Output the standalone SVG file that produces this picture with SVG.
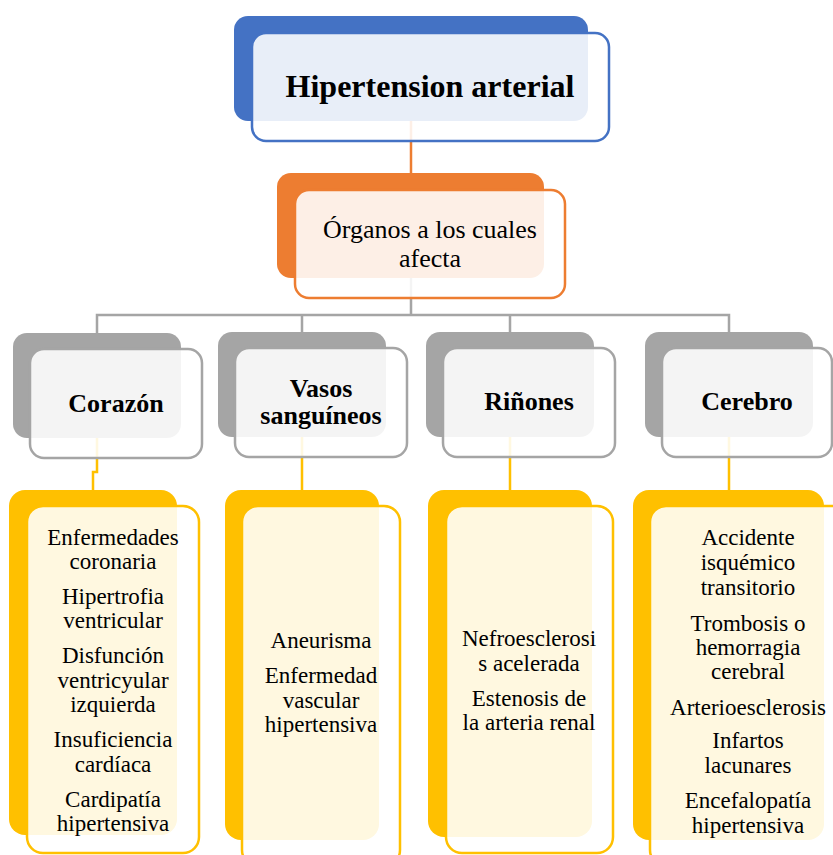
<svg xmlns="http://www.w3.org/2000/svg" width="833" height="855" viewBox="0 0 833 855">
<style>
.tx{font-family:"Liberation Serif","Times New Roman",serif;text-anchor:middle;fill:#000}
.t1{font-size:32px;font-weight:bold}
.t2{font-size:26px}
.t3{font-size:26px;font-weight:bold}
.t4{font-size:23px}
.fr{fill:#fff;fill-opacity:0.88;stroke-width:2.5}
.blue{fill:#4472C4}.bluS{stroke:#4472C4}
.org{fill:#ED7D31}.orgS{stroke:#ED7D31}
.gry{fill:#A5A5A5}.gryS{stroke:#A5A5A5}
.yel{fill:#FFC000}.yelS{stroke:#FFC000}
.ln{fill:none;stroke-width:2.5}
</style>
<rect width="833" height="855" fill="#fff"/>
<g id="connectors">
<path class="ln orgS" d="M411 121 V173"/>
<path class="ln gryS" d="M411 278 V315 M97 333 V315 H729 V332 M302 315 V332 M510 315 V332"/>
<path class="ln yelS" d="M97 438 V472 H93 V490 M302 437 V490 M510 437 V490 M729 437 V490"/>
</g>
<g id="node-hipertension">
<rect class="blue" x="234" y="16" width="354" height="105" rx="14"/>
<rect class="fr bluS" x="252" y="33" width="357" height="108" rx="14"/>
<text class="tx t1" x="430" y="97">Hipertension arterial</text>
</g>
<g id="node-organos">
<rect class="org" x="277" y="173" width="267" height="105" rx="14"/>
<rect class="fr orgS" x="295" y="190" width="270" height="108" rx="14"/>
<text class="tx t2" x="430" y="238">Órganos a los cuales</text>
<text class="tx t2" x="430" y="267">afecta</text>
</g>
<g id="node-corazon">
<rect class="gry" x="13" y="333" width="168" height="105" rx="14"/>
<rect class="fr gryS" x="30" y="349" width="172" height="109" rx="14"/>
<text class="tx t3" x="116" y="412">Corazón</text>
</g>
<g id="node-vasos">
<rect class="gry" x="218" y="332" width="168" height="105" rx="14"/>
<rect class="fr gryS" x="235" y="348" width="172" height="109" rx="14"/>
<text class="tx t3" x="321" y="397">Vasos</text>
<text class="tx t3" x="321" y="424">sanguíneos</text>
</g>
<g id="node-rinones">
<rect class="gry" x="426" y="332" width="168" height="105" rx="14"/>
<rect class="fr gryS" x="443" y="348" width="172" height="109" rx="14"/>
<text class="tx t3" x="529" y="410">Riñones</text>
</g>
<g id="node-cerebro">
<rect class="gry" x="645" y="332" width="168" height="105" rx="14"/>
<rect class="fr gryS" x="662" y="348" width="170" height="109" rx="14"/>
<text class="tx t3" x="747" y="410">Cerebro</text>
</g>
<g id="node-corazon-list">
<rect class="yel" x="9" y="490" width="168" height="345" rx="16"/>
<rect class="fr yelS" x="27" y="506" width="172" height="347" rx="16"/>
<text class="tx t4" x="113" y="545">Enfermedades</text>
<text class="tx t4" x="113" y="569">coronaria</text>
<text class="tx t4" x="113" y="604">Hipertrofia</text>
<text class="tx t4" x="113" y="628">ventricular</text>
<text class="tx t4" x="113" y="663">Disfunción</text>
<text class="tx t4" x="113" y="688">ventricyular</text>
<text class="tx t4" x="113" y="712">izquierda</text>
<text class="tx t4" x="113" y="747">Insuficiencia</text>
<text class="tx t4" x="113" y="772">cardíaca</text>
<text class="tx t4" x="113" y="807">Cardipatía</text>
<text class="tx t4" x="113" y="831">hipertensiva</text>
</g>
<g id="node-vasos-list">
<rect class="yel" x="225" y="490" width="154" height="350" rx="16"/>
<rect class="fr yelS" x="242" y="506" width="158" height="360" rx="16"/>
<text class="tx t4" x="321" y="648">Aneurisma</text>
<text class="tx t4" x="321" y="683">Enfermedad</text>
<text class="tx t4" x="321" y="708">vascular</text>
<text class="tx t4" x="321" y="732">hipertensiva</text>
</g>
<g id="node-rinones-list">
<rect class="yel" x="428" y="490" width="164" height="347" rx="16"/>
<rect class="fr yelS" x="446" y="506" width="167" height="347" rx="16"/>
<text class="tx t4" x="529" y="646">Nefroesclerosi</text>
<text class="tx t4" x="529" y="671">s acelerada</text>
<text class="tx t4" x="529" y="706">Estenosis de</text>
<text class="tx t4" x="529" y="730">la arteria renal</text>
</g>
<g id="node-cerebro-list">
<rect class="yel" x="633" y="490" width="191" height="350" rx="16"/>
<rect class="fr yelS" x="650" y="506" width="200" height="360" rx="16"/>
<text class="tx t4" x="748" y="545">Accidente</text>
<text class="tx t4" x="748" y="570">isquémico</text>
<text class="tx t4" x="748" y="595">transitorio</text>
<text class="tx t4" x="748" y="631">Trombosis o</text>
<text class="tx t4" x="748" y="655">hemorragia</text>
<text class="tx t4" x="748" y="679">cerebral</text>
<text class="tx t4" x="748" y="715">Arterioesclerosis</text>
<text class="tx t4" x="748" y="748">Infartos</text>
<text class="tx t4" x="748" y="773">lacunares</text>
<text class="tx t4" x="748" y="808">Encefalopatía</text>
<text class="tx t4" x="748" y="833">hipertensiva</text>
</g>
</svg>
